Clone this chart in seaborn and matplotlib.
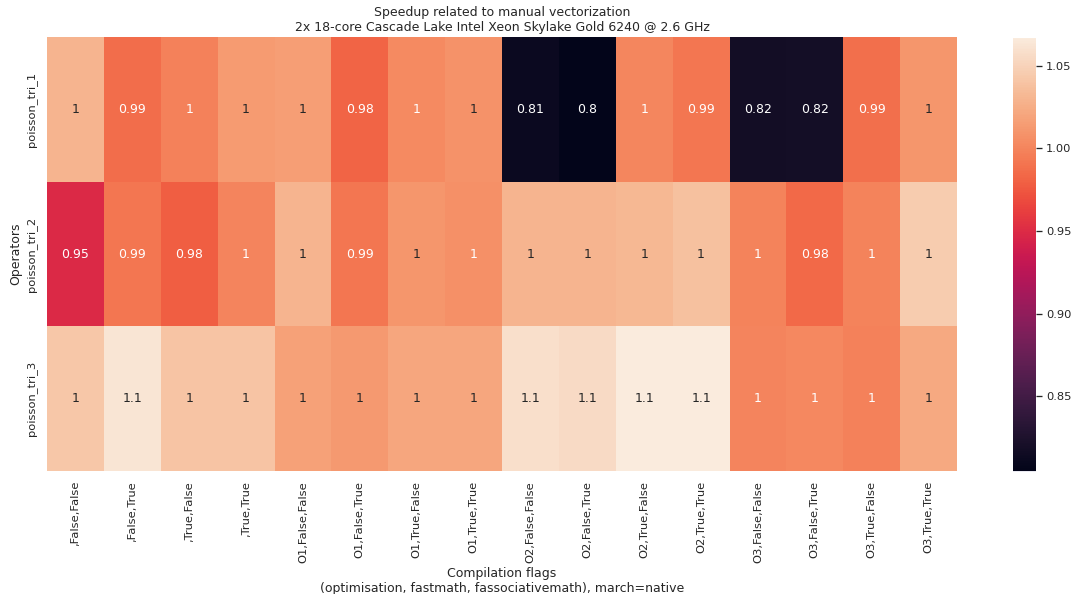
import matplotlib
matplotlib.use("Agg")
import matplotlib.pyplot as plt
import seaborn as sns
import pandas as pd

# operators (rows) and compilation flag combinations (columns)
operators = ["poisson_tri_1", "poisson_tri_2", "poisson_tri_3"]
flags = [",False,False", ",False,True", ",True,False", ",True,True",
         "O1,False,False", "O1,False,True", "O1,True,False", "O1,True,True",
         "O2,False,False", "O2,False,True", "O2,True,False", "O2,True,True",
         "O3,False,False", "O3,False,True", "O3,True,False", "O3,True,True"]

# speedup values
tri_1 = [1.030, 0.987, 0.998, 1.013, 1.015, 0.981, 1.003, 1.008,
         0.812, 0.8045, 1.001, 0.992, 0.817, 0.818, 0.988, 1.010]
tri_2 = [0.949, 0.992, 0.978, 1.000, 1.030, 0.992, 1.010, 1.007,
         1.030, 1.030, 1.032, 1.038, 0.999, 0.984, 0.999, 1.045]
tri_3 = [1.042, 1.062, 1.040, 1.040, 1.017, 1.012, 1.020, 1.020,
         1.058, 1.055, 1.067, 1.066, 1.000, 1.002, 0.998, 1.022]

df = pd.DataFrame([tri_1, tri_2, tri_3], index=operators, columns=flags)

sns.set_theme()

dpi = 75
fig = plt.figure(figsize=(1072 / dpi, 594 / dpi), dpi=dpi)
ax = fig.add_axes([47 / 1072, 1 - 471 / 594, 910 / 1072, 434 / 594])
cax = fig.add_axes([1013 / 1072, 1 - 471.5 / 594, 23 / 1072, 434 / 594])

sns.heatmap(df, annot=True, ax=ax, cbar_ax=cax)

ax.set_xticklabels(flags, rotation=90)
ax.set_title("Speedup related to manual vectorization\n"
             "2x 18-core Cascade Lake Intel Xeon Skylake Gold 6240 @ 2.6 GHz")
ax.set_xlabel("Compilation flags\n(optimisation, fastmath, fassociativemath), march=native")
ax.set_ylabel("Operators")

fig.savefig("out.png", dpi=dpi)
